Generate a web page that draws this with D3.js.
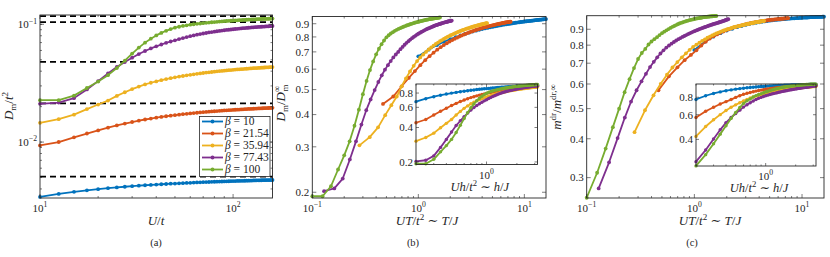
<!DOCTYPE html>
<html><head><meta charset="utf-8">
<script src="https://cdn.jsdelivr.net/npm/d3@7/dist/d3.min.js"></script>
<style>body{margin:0;background:#fff} svg{display:block} text{font-family:"Liberation Serif","DejaVu Serif",serif;fill:#262626}</style>
</head><body><svg id="c" width="830" height="257"></svg>
<script>
// ---------------- data ----------------
const U = [10,12.5,15,17.5,20,22.5,25,27.5,30,32.5,35,37.5,40,42.5,45,47.5,50,52.5,55,57.5,60,62.5,65,67.5,70,72.5,75,77.5,80,82.5,85,87.5,90,92.5,95,97.5,100,102.5,105,107.5,110,112.5,115,117.5,120,122.5,125,127.5,130,132.5,135,137.5,140,142.5,145,147.5,150,152.5,155,157.5,160];
const betas = [10, 21.54, 35.94, 77.43, 100];
const betaLabels = ["10", "21.54", "35.94", "77.43", "100"];
const colors = ["#0072BD", "#D95319", "#EDB120", "#7E2F8E", "#77AC30"];
// asymptotic D_m^inf / t^2 (dashed lines)
const dInf = [0.00508, 0.0213, 0.0479, 0.1045, 0.1175];
// D_m / D_m^inf for each beta
const dRatio10 = [0.673,0.714,0.744,0.766,0.784,0.799,0.811,0.822,0.831,0.839,0.846,0.852,0.858,0.863,0.867,0.872,0.875,0.879,0.882,0.886,0.888,0.891,0.894,0.896,0.898,0.900,0.902,0.904,0.906,0.908,0.909,0.911,0.912,0.914,0.915,0.917,0.918,0.919,0.920,0.921,0.922,0.923,0.924,0.925,0.926,0.927,0.928,0.929,0.930,0.931,0.931,0.932,0.933,0.934,0.934,0.935,0.936,0.936,0.937,0.938,0.938];
const dRatio21 = [0.440,0.470,0.515,0.555,0.590,0.622,0.650,0.674,0.695,0.714,0.730,0.744,0.756,0.768,0.778,0.787,0.795,0.803,0.810,0.816,0.822,0.828,0.833,0.838,0.842,0.847,0.851,0.855,0.858,0.861,0.865,0.868,0.871,0.873,0.876,0.878,0.881,0.883,0.885,0.887,0.889,0.891,0.893,0.895,0.897,0.898,0.900,0.901,0.903,0.904,0.906,0.907,0.908,0.910,0.911,0.912,0.913,0.914,0.915,0.916,0.917];
const dRatio35 = [0.304,0.327,0.357,0.398,0.435,0.470,0.515,0.553,0.588,0.618,0.645,0.666,0.684,0.700,0.715,0.728,0.740,0.751,0.760,0.770,0.778,0.786,0.793,0.800,0.806,0.812,0.817,0.822,0.827,0.832,0.836,0.840,0.844,0.848,0.851,0.854,0.858,0.861,0.864,0.866,0.869,0.871,0.874,0.876,0.878,0.881,0.883,0.885,0.887,0.888,0.890,0.892,0.894,0.895,0.897,0.898,0.900,0.901,0.903,0.904,0.905];
const dRatio77 = [0.202,0.207,0.226,0.268,0.315,0.366,0.416,0.458,0.498,0.535,0.568,0.597,0.622,0.645,0.666,0.684,0.700,0.717,0.732,0.746,0.759,0.770,0.781,0.791,0.800,0.808,0.816,0.823,0.829,0.836,0.841,0.847,0.852,0.857,0.861,0.865,0.869,0.873,0.877,0.880,0.884,0.887,0.890,0.892,0.895,0.898,0.900,0.902,0.905,0.907,0.909,0.911,0.913,0.915,0.916,0.918,0.920,0.921,0.923,0.924,0.926];
const dRatio100 = [0.193,0.193,0.211,0.245,0.278,0.315,0.362,0.418,0.480,0.540,0.595,0.643,0.685,0.720,0.750,0.775,0.797,0.812,0.825,0.835,0.845,0.852,0.859,0.865,0.871,0.876,0.881,0.886,0.890,0.894,0.898,0.901,0.905,0.908,0.911,0.913,0.916,0.918,0.921,0.923,0.925,0.927,0.929,0.931,0.933,0.934,0.936,0.937,0.939,0.940,0.941,0.943,0.944,0.945,0.946,0.947,0.948,0.949,0.950,0.951,0.952];
// m^dr / m^dr,inf for each beta
const mRatio10 = [0.772,0.820,0.852,0.874,0.891,0.903,0.914,0.922,0.929,0.935,0.940,0.944,0.948,0.951,0.954,0.956,0.959,0.961,0.963,0.964,0.966,0.967,0.969,0.970,0.971,0.972,0.973,0.974,0.975,0.976,0.976,0.977,0.978,0.978,0.979,0.980,0.980,0.981,0.981,0.982,0.982,0.982,0.983,0.983,0.984,0.984,0.984,0.985,0.985,0.985,0.986,0.986,0.986,0.986,0.987,0.987,0.987,0.987,0.988,0.988,0.988];
const mRatio21 = [0.573,0.635,0.679,0.716,0.744,0.770,0.798,0.821,0.840,0.854,0.866,0.877,0.885,0.893,0.900,0.906,0.912,0.916,0.921,0.925,0.928,0.932,0.935,0.938,0.940,0.943,0.945,0.947,0.949,0.951,0.952,0.954,0.955,0.957,0.958,0.959,0.960,0.962,0.963,0.964,0.965,0.966,0.966,0.967,0.968,0.969,0.969,0.970,0.971,0.971,0.972,0.973,0.973,0.974,0.974,0.975,0.975,0.976,0.976,0.977,0.977];
const mRatio35 = [0.420,0.494,0.552,0.601,0.643,0.678,0.706,0.731,0.753,0.773,0.790,0.803,0.815,0.826,0.835,0.845,0.852,0.860,0.867,0.873,0.878,0.883,0.888,0.892,0.896,0.900,0.903,0.906,0.909,0.912,0.915,0.917,0.919,0.921,0.923,0.925,0.927,0.929,0.931,0.933,0.934,0.936,0.937,0.939,0.940,0.942,0.943,0.944,0.946,0.947,0.948,0.949,0.950,0.951,0.952,0.953,0.954,0.955,0.956,0.957,0.958];
const mRatio77 = [0.277,0.336,0.402,0.468,0.527,0.573,0.612,0.647,0.680,0.707,0.731,0.752,0.770,0.786,0.798,0.809,0.819,0.828,0.836,0.843,0.850,0.856,0.862,0.868,0.873,0.878,0.883,0.887,0.891,0.895,0.899,0.903,0.906,0.909,0.912,0.915,0.918,0.921,0.924,0.926,0.929,0.931,0.934,0.936,0.938,0.940,0.942,0.944,0.946,0.948,0.950,0.952,0.954,0.956,0.958,0.960,0.962,0.964,0.966,0.968,0.970];
const mRatio100 = [0.2585,0.311,0.372,0.436,0.500,0.565,0.622,0.675,0.722,0.755,0.778,0.804,0.822,0.836,0.849,0.862,0.874,0.884,0.893,0.901,0.909,0.916,0.922,0.928,0.934,0.939,0.943,0.947,0.951,0.954,0.957,0.960,0.963,0.965,0.967,0.969,0.971,0.973,0.975,0.976,0.977,0.979,0.980,0.981,0.983,0.984,0.985,0.986,0.987,0.988,0.988,0.989,0.990,0.990,0.991,0.991,0.992,0.992,0.993,0.993,0.993];
const dRatio = [dRatio10, dRatio21, dRatio35, dRatio77, dRatio100];
const mRatio = [mRatio10, mRatio21, mRatio35, mRatio77, mRatio100];
const hInset = 0.02; // inset abscissa: U h / t^2

const yTicksB = [0.2,0.3,0.4,0.5,0.6,0.7,0.8,0.9];
const yTicksC = [0.3,0.4,0.5,0.6,0.7,0.8,0.9];
const yTicksBi = [0.2,0.4,0.6,0.8];
const yTicksCi = [0.4,0.6,0.8];

// ---------------- drawing ----------------
const svg = d3.select("#c");
const AX = "#262626";
const LW = 1.8, MR = 1.9;

function sup10(sel, k, size) {
  sel.text(null);
  sel.append("tspan").text("10");
  sel.append("tspan").attr("dy", -size*0.42).attr("font-size", size*0.7).text(k < 0 ? "\u2212" + (-k) : String(k));
}

function logMinor(dom) {
  const out = [];
  const lo = Math.floor(Math.log10(dom[0])), hi = Math.ceil(Math.log10(dom[1]));
  for (let e = lo; e <= hi; e++) for (let m = 1; m < 10; m++) {
    const v = m * Math.pow(10, e);
    if (v >= dom[0]*0.9999 && v <= dom[1]*1.0001) out.push(v);
  }
  return out;
}

function frame(g, x, y, o) {
  const [x0, x1] = x.range(), [y1, y0] = y.range();
  const fs = o.fs || 11;
  g.append("rect").attr("x", x0).attr("y", y0).attr("width", x1 - x0).attr("height", y1 - y0)
    .attr("fill", "none").attr("stroke", AX).attr("stroke-width", 0.9);
  const tk = g.append("g").attr("stroke", AX).attr("stroke-width", 0.6);
  const maj = o.maj || 4, mn = o.mn || 2;
  const xMinor = logMinor(x.domain());
  xMinor.forEach(v => {
    const isMaj = Math.abs(Math.log10(v) - Math.round(Math.log10(v))) < 1e-9;
    const L = isMaj ? maj : mn, px = x(v);
    tk.append("line").attr("x1", px).attr("x2", px).attr("y1", y1).attr("y2", y1 - L);
    tk.append("line").attr("x1", px).attr("x2", px).attr("y1", y0).attr("y2", y0 + L);
  });
  const yMaj = o.yTicks, yMin = o.yMinor || [];
  yMin.forEach(v => {
    const py = y(v);
    tk.append("line").attr("x1", x0).attr("x2", x0 + mn).attr("y1", py).attr("y2", py);
    tk.append("line").attr("x1", x1).attr("x2", x1 - mn).attr("y1", py).attr("y2", py);
  });
  yMaj.forEach(v => {
    const py = y(v);
    tk.append("line").attr("x1", x0).attr("x2", x0 + maj).attr("y1", py).attr("y2", py);
    tk.append("line").attr("x1", x1).attr("x2", x1 - maj).attr("y1", py).attr("y2", py);
  });
  o.xTicks.forEach(v => {
    const t = g.append("text").attr("x", x(v)).attr("y", y1 + fs + 3).attr("text-anchor", "middle").attr("font-size", fs);
    sup10(t, Math.round(Math.log10(v)), fs);
  });
  yMaj.forEach(v => {
    const t = g.append("text").attr("x", x0 - 3).attr("y", y(v) + fs*0.35).attr("text-anchor", "end").attr("font-size", fs);
    if (o.yPow) sup10(t, Math.round(Math.log10(v)), fs); else t.text(d3.format(".1f")(v));
  });
}

function series(g, x, y, pts, color, lw, r) {
  const line = d3.line().x(d => x(d[0])).y(d => y(d[1]));
  g.append("path").attr("d", line(pts)).attr("fill", "none").attr("stroke", color).attr("stroke-width", lw).attr("stroke-linejoin", "round");
  g.selectAll(null).data(pts).enter().append("circle").attr("cx", d => x(d[0])).attr("cy", d => y(d[1])).attr("r", r).attr("fill", color);
}

// ===== panel (a) =====
const xa = d3.scaleLog().domain([10, 160]).range([40, 272.5]);
const ya = d3.scaleLog().domain([0.00335, 0.12]).range([198, 15]);
const ga = svg.append("g");
dInf.forEach(v => {
  ga.append("line").attr("x1", xa(10)).attr("x2", xa(160)).attr("y1", ya(v)).attr("y2", ya(v))
    .attr("stroke", "#000").attr("stroke-width", 1.7).attr("stroke-dasharray", "6,4");
});
betas.forEach((b, k) => {
  series(ga, xa, ya, U.map((u, i) => [u, dInf[k] * dRatio[k][i]]), colors[k], LW, MR);
});
frame(ga, xa, ya, {xTicks: [10, 100], yTicks: [0.01, 0.1], yMinor: logMinor([0.00335, 0.12]), yPow: true});
// legend
const lg = ga.append("g");
lg.append("rect").attr("x", 199.5).attr("y", 116.5).attr("width", 70.5).attr("height", 60).attr("fill", "#fff").attr("stroke", AX).attr("stroke-width", 0.8);
betas.forEach((b, k) => {
  const yy = 121.5 + k * 12;
  lg.append("line").attr("x1", 202).attr("x2", 223).attr("y1", yy).attr("y2", yy).attr("stroke", colors[k]).attr("stroke-width", LW);
  lg.append("circle").attr("cx", 212.5).attr("cy", yy).attr("r", MR).attr("fill", colors[k]);
  const t = lg.append("text").attr("x", 225).attr("y", yy + 3.8).attr("font-size", 11.5);
  t.append("tspan").attr("font-style", "italic").text("\u03b2");
  t.append("tspan").text(" = " + betaLabels[k]);
});
{
  const t = svg.append("text").attr("transform", "translate(13,106) rotate(-90)").attr("text-anchor", "middle").attr("font-size", 13);
  t.append("tspan").attr("font-style", "italic").text("D");
  t.append("tspan").attr("dy", 3).attr("font-size", 9).text("m");
  t.append("tspan").attr("dy", -3).text("/");
  t.append("tspan").attr("font-style", "italic").text("t");
  t.append("tspan").attr("dy", -5).attr("font-size", 9).text("2");
  const xl = svg.append("text").attr("x", 156).attr("y", 225).attr("text-anchor", "middle").attr("font-size", 13);
  xl.append("tspan").attr("font-style", "italic").text("U");
  xl.append("tspan").text("/");
  xl.append("tspan").attr("font-style", "italic").text("t");
  svg.append("text").attr("x", 156).attr("y", 246).attr("text-anchor", "middle").attr("font-size", 10.5).text("(a)");
}

function xlabelUT(x, y, fs, letter) {
  const t = svg.append("text").attr("x", x).attr("y", y).attr("text-anchor", "middle").attr("font-size", fs);
  t.append("tspan").attr("font-style", "italic").text("U" + letter);
  t.append("tspan").text("/");
  t.append("tspan").attr("font-style", "italic").text("t");
  t.append("tspan").attr("dy", -5).attr("font-size", fs*0.7).text("2");
  t.append("tspan").attr("dy", 5).text(" \u223c ");
  t.append("tspan").attr("font-style", "italic").text(letter);
  t.append("tspan").text("/");
  t.append("tspan").attr("font-style", "italic").text("J");
}

// ===== panels (b) & (c) with insets =====
function mainPanel(opts) {
  const x = d3.scaleLog().domain([0.1, 16]).range(opts.xr);
  const y = d3.scaleLog().domain(opts.yd).range([198, opts.top]);
  const g = svg.append("g");
  betas.forEach((b, k) => {
    series(g, x, y, U.map((u, i) => [u / b, opts.data[k][i]]), colors[k], LW, MR);
  });
  frame(g, x, y, {xTicks: [0.1, 1, 10], yTicks: opts.yTicks});
  const xi = d3.scaleLog().domain([U[0] * hInset, U[U.length - 1] * hInset]).range(opts.ixr);
  const yi = d3.scaleLog().domain(opts.yd).range(opts.iyr);
  const gi = svg.append("g");
  gi.append("rect").attr("x", opts.ixr[0]).attr("y", opts.iyr[1]).attr("width", opts.ixr[1] - opts.ixr[0]).attr("height", opts.iyr[0] - opts.iyr[1]).attr("fill", "#fff");
  betas.forEach((b, k) => {
    series(gi, xi, yi, U.map((u, i) => [u * hInset, opts.data[k][i]]), colors[k], LW, MR * 0.9);
  });
  frame(gi, xi, yi, {xTicks: [1], yTicks: opts.iyTicks, maj: 3, mn: 1.5});
  const t = svg.append("text").attr("x", (opts.ixr[0] + opts.ixr[1]) / 2 + 3).attr("y", opts.iyr[0] + 26).attr("text-anchor", "middle").attr("font-size", 12.5);
  t.append("tspan").attr("font-style", "italic").text("Uh");
  t.append("tspan").text("/");
  t.append("tspan").attr("font-style", "italic").text("t");
  t.append("tspan").attr("dy", -5).attr("font-size", 8.7).text("2");
  t.append("tspan").attr("dy", 5).text(" \u223c ");
  t.append("tspan").attr("font-style", "italic").text("h");
  t.append("tspan").text("/");
  t.append("tspan").attr("font-style", "italic").text("J");
}

mainPanel({xr: [312.3, 546], yd: [0.19, 0.96], top: 16.5, data: dRatio, yTicks: yTicksB,
  ixr: [416, 537.5], iyr: [164.5, 84], iyTicks: yTicksBi});
mainPanel({xr: [586.7, 824], yd: [0.258, 0.995], top: 15.7, data: mRatio, yTicks: yTicksC,
  ixr: [696, 816], iyr: [166, 84], iyTicks: yTicksCi});

xlabelUT(427, 225, 13, "T");
xlabelUT(710, 225, 13, "T");
svg.append("text").attr("x", 413).attr("y", 246).attr("text-anchor", "middle").attr("font-size", 10.5).text("(b)");
svg.append("text").attr("x", 692).attr("y", 246).attr("text-anchor", "middle").attr("font-size", 10.5).text("(c)");
{
  const t = svg.append("text").attr("transform", "translate(285,103) rotate(-90)").attr("text-anchor", "middle").attr("font-size", 13);
  t.append("tspan").attr("font-style", "italic").text("D");
  t.append("tspan").attr("dy", 3).attr("font-size", 9).text("m");
  t.append("tspan").attr("dy", -3).text("/");
  t.append("tspan").attr("font-style", "italic").text("D");
  t.append("tspan").attr("dy", -5).attr("font-size", 9).text("\u221e");
  t.append("tspan").attr("dx", -6).attr("dy", 8).attr("font-size", 9).text("m");
  const c = svg.append("text").attr("transform", "translate(561,107) rotate(-90)").attr("text-anchor", "middle").attr("font-size", 13);
  c.append("tspan").attr("font-style", "italic").text("m");
  c.append("tspan").attr("dy", -5).attr("font-size", 9).text("dr");
  c.append("tspan").attr("dy", 5).text("/");
  c.append("tspan").attr("font-style", "italic").text("m");
  c.append("tspan").attr("dy", -5).attr("font-size", 9).text("dr,\u221e");
}
</script></body></html>
